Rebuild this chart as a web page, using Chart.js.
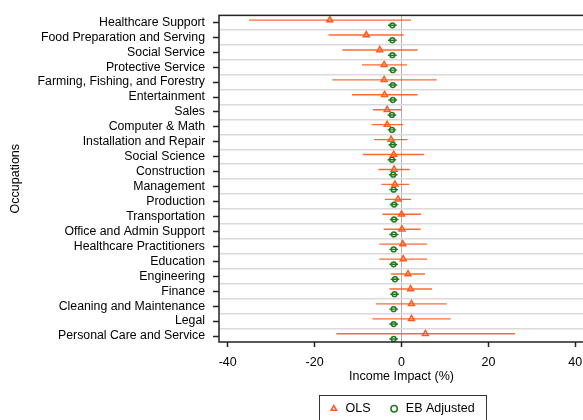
<!DOCTYPE html>
<html>
<head>
<meta charset="utf-8">
<script src="https://cdn.jsdelivr.net/npm/chart.js@4.4.1/dist/chart.umd.min.js"></script>
<style>
  html, body { margin: 0; padding: 0; background: #fff; overflow: hidden; }
  #wrap { width: 600px; height: 420px; }
</style>
</head>
<body>
<div id="wrap"><canvas id="chart" width="600" height="420"></canvas></div>
<script>
// Occupations, top to bottom
const occupations = [
    'Healthcare Support', 'Food Preparation and Serving', 'Social Service', 'Protective Service',
    'Farming, Fishing, and Forestry', 'Entertainment', 'Sales', 'Computer & Math',
    'Installation and Repair', 'Social Science', 'Construction', 'Management', 'Production',
    'Transportation', 'Office and Admin Support', 'Healthcare Practitioners', 'Education',
    'Engineering', 'Finance', 'Cleaning and Maintenance', 'Legal', 'Personal Care and Service'
];

// OLS estimates and confidence intervals (%)
const olsEst  = [-16.5, -8.1, -5.0, -4.0, -4.0, -3.9, -3.3, -3.3, -2.4, -1.8, -1.7, -1.5, -0.8, 0.0, 0.1, 0.3, 0.4, 1.5, 2.1, 2.3, 2.3, 5.5];
const olsLow  = [-35.1, -16.8, -13.6, -9.1, -15.9, -11.4, -6.6, -6.9, -6.3, -8.9, -5.3, -4.6, -3.8, -4.4, -4.1, -5.1, -5.1, -2.4, -2.8, -5.9, -6.7, -15.0];
const olsHigh = [2.2, 0.5, 3.7, 1.3, 8.1, 3.7, 0.0, 0.4, 1.4, 5.2, 1.9, 1.8, 2.2, 4.5, 4.4, 5.9, 5.9, 5.4, 7.0, 10.4, 11.3, 26.1];

// EB adjusted estimates and intervals (%)
const ebEst  = [-2.1, -2.1, -2.1, -2.0, -2.0, -2.0, -2.2, -2.2, -2.0, -2.2, -1.9, -1.8, -1.7, -1.7, -1.75, -1.8, -1.8, -1.5, -1.6, -1.8, -1.8, -1.8];
const ebLow  = [-3.1, -3.1, -3.1, -3.0, -3.0, -3.0, -3.2, -3.2, -3.0, -3.2, -2.9, -2.8, -2.7, -2.7, -2.8, -2.8, -2.8, -2.5, -2.6, -2.8, -2.8, -2.8];
const ebHigh = [-1.1, -1.1, -1.1, -1.0, -1.0, -1.0, -1.2, -1.2, -1.0, -1.2, -0.9, -0.8, -0.7, -0.7, -0.7, -0.8, -0.8, -0.5, -0.6, -0.8, -0.8, -0.8];

const xTicks = [-40, -20, 0, 20, 40];

const rows = occupations.map((_, i) => i + 1);
const gridRows = rows.slice(0, -1).map(r => r + 0.5);

const OLS_COLOR = '#ff5a1e';
const EB_COLOR = '#1f7a1f';
const OLS_SHIFT = -0.15;
const EB_SHIFT = 0.2;
const FONT = 'Liberation Sans';

// error bar segments, separated by gaps
function segments(lo, hi, shift) {
    const pts = [];
    rows.forEach((r, i) => {
        pts.push({ x: lo[i], y: r + shift }, { x: hi[i], y: r + shift }, { x: hi[i], y: null });
    });
    return pts;
}

const framePlugin = {
    id: 'frame',
    afterDraw(chart) {
        const { ctx, chartArea: a, legend } = chart;
        ctx.save();
        ctx.strokeStyle = '#222';
        ctx.lineWidth = 1.5;
        ctx.strokeRect(a.left, a.top, a.right - a.left + 10, a.bottom - a.top);

        // box round the legend
        const hb = legend.legendHitBoxes;
        if (hb && hb.length) {
            const first = hb[0], last = hb[hb.length - 1];
            const x0 = Math.round(first.left - 9) + 0.5;
            const x1 = Math.round(last.left + last.width + 11) + 0.5;
            const y0 = Math.round(first.top - 8) + 0.5;
            ctx.lineWidth = 1;
            ctx.strokeStyle = '#333';
            ctx.strokeRect(x0, y0, x1 - x0, 40);
        }
        ctx.restore();
    }
};

new Chart(document.getElementById('chart'), {
    type: 'scatter',
    data: {
        datasets: [
            {
                label: 'OLS',
                data: rows.map((r, i) => ({ x: olsEst[i], y: r + OLS_SHIFT })),
                pointStyle: 'triangle',
                pointRadius: 3.4,
                borderColor: OLS_COLOR,
                backgroundColor: 'rgba(255,255,255,0)',
                borderWidth: 1.5
            },
            {
                label: 'EB Adjusted',
                data: rows.map((r, i) => ({ x: ebEst[i], y: r + EB_SHIFT })),
                pointStyle: 'circle',
                pointRadius: 2.4,
                borderColor: EB_COLOR,
                backgroundColor: 'rgba(255,255,255,0)',
                borderWidth: 1.5
            },
            {
                label: 'OLS CI',
                data: segments(olsLow, olsHigh, OLS_SHIFT),
                showLine: true,
                spanGaps: false,
                pointRadius: 0,
                borderColor: 'rgba(255, 90, 30, 0.9)',
                borderWidth: 1.4
            },
            {
                label: 'EB CI',
                data: segments(ebLow, ebHigh, EB_SHIFT),
                showLine: true,
                spanGaps: false,
                pointRadius: 0,
                borderColor: EB_COLOR,
                borderWidth: 1.4
            }
        ]
    },
    options: {
        responsive: false,
        animation: false,
        layout: { padding: { top: 13, right: 16, bottom: 0, left: 0 } },
        plugins: {
            tooltip: { enabled: false },
            legend: {
                position: 'bottom',
                fullSize: false,
                maxHeight: 35.5,
                labels: {
                    filter: item => item.datasetIndex < 2,
                    usePointStyle: true,
                    boxWidth: 11,
                    boxHeight: 4.5,
                    padding: 18,
                    color: '#000',
                    font: { family: FONT, size: 12.5 }
                }
            }
        },
        scales: {
            x: {
                type: 'linear',
                min: -42,
                max: 42,
                afterBuildTicks: s => { s.ticks = xTicks.map(v => ({ value: v })); },
                afterFit: s => { s.height = 42.5; },
                border: { display: false },
                grid: {
                    color: c => (c.tick && c.tick.value === 0) ? '#b0b0b0' : 'rgba(0,0,0,0)',
                    lineWidth: 1,
                    tickColor: '#222',
                    tickLength: 5,
                    tickWidth: 1.5
                },
                ticks: { color: '#000', padding: 8, font: { family: FONT, size: 12.5 } },
                title: {
                    display: true,
                    text: 'Income Impact (%)',
                    color: '#000',
                    padding: { top: 0, bottom: 0 },
                    font: { family: FONT, size: 12.5 }
                }
            },
            y: {
                type: 'linear',
                position: 'left',
                reverse: true,
                min: 0.535,
                max: 22.4,
                afterBuildTicks: s => { s.ticks = rows.map(v => ({ value: v })); },
                afterFit: s => { s.width = 219; },
                border: { display: false },
                grid: {
                    drawOnChartArea: false,
                    tickColor: '#222',
                    tickLength: 6,
                    tickWidth: 1.5
                },
                ticks: {
                    autoSkip: false,
                    padding: 8,
                    color: '#000',
                    font: { family: FONT, size: 12.3 },
                    callback: v => occupations[v - 1]
                },
                title: {
                    display: true,
                    text: 'Occupations',
                    color: '#000',
                    padding: { top: 8, bottom: 0 },
                    font: { family: FONT, size: 12.5 }
                }
            },
            yGrid: {
                type: 'linear',
                position: 'left',
                reverse: true,
                min: 0.535,
                max: 22.4,
                afterBuildTicks: s => { s.ticks = gridRows.map(v => ({ value: v })); },
                afterFit: s => { s.width = 0; },
                border: { display: false },
                grid: { color: '#dadada', lineWidth: 1.5, drawTicks: false },
                ticks: { display: false }
            }
        }
    },
    plugins: [framePlugin]
});
</script>
</body>
</html>
